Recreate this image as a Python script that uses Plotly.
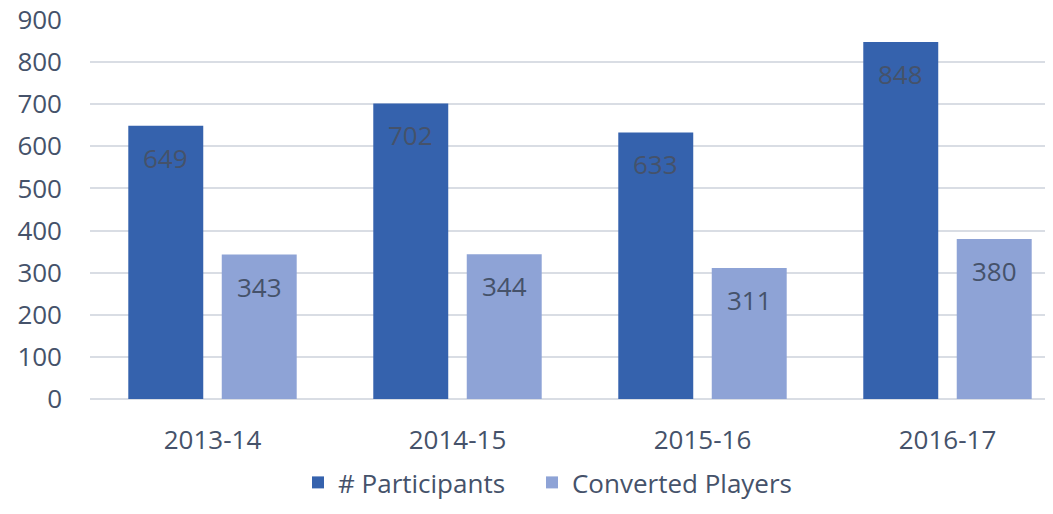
import plotly.graph_objects as go

seasons = ["2013-14", "2014-15", "2015-16", "2016-17"]
participants = [649, 702, 633, 848]
converted = [343, 344, 311, 380]
series_names = ["# Participants", "Converted Players"]
y_ticks = [0, 100, 200, 300, 400, 500, 600, 700, 800, 900]

dark = "#3562ad"
light = "#8ea3d6"
text_col = "#45526a"
font_fam = "'Open Sans', sans-serif"
fs = 26

fig = go.Figure()
fig.add_trace(go.Bar(x=seasons, y=participants, name=series_names[0], legend="legend",
                     marker=dict(color=dark, line=dict(width=0))))
fig.add_trace(go.Bar(x=seasons, y=converted, name=series_names[1], legend="legend2",
                     marker=dict(color=light, line=dict(width=0))))

for s, v in zip(seasons, participants):
    fig.add_annotation(x=s, y=v, text=str(v), showarrow=False, xshift=-46.75, yshift=-32,
                       font=dict(size=fs, color=text_col, family=font_fam))
for s, v in zip(seasons, converted):
    fig.add_annotation(x=s, y=v, text=str(v), showarrow=False, xshift=46.75, yshift=-32,
                       font=dict(size=fs, color=text_col, family=font_fam))

legend_common = dict(orientation="h", xanchor="left", y=-0.221, yanchor="middle",
                     font=dict(size=fs, color=text_col), itemwidth=30)

fig.update_layout(
    width=1037, height=498,
    margin=dict(l=82, r=0, t=12, b=99),
    paper_bgcolor="white", plot_bgcolor="white",
    barmode="group", bargap=0.237, bargroupgap=0.198,
    font=dict(family=font_fam, size=fs, color=text_col),
    xaxis=dict(range=[-0.5, 3.398], showgrid=False, zeroline=False, showline=False,
               ticks="", automargin=False, ticklabelstandoff=23,
               tickfont=dict(size=fs, color=text_col)),
    yaxis=dict(range=[0, 900], tickvals=y_ticks, showgrid=True, gridcolor="#d9dde4",
               gridwidth=1.5, zeroline=True, zerolinecolor="#d9dde4", zerolinewidth=1.5,
               showline=False, ticks="", ticklabelstandoff=27, automargin=False,
               ticklabeloverflow="allow",
               tickfont=dict(size=fs, color=text_col)),
    legend=dict(x=0.2178, **legend_common),
    legend2=dict(x=0.4628, **legend_common),
    showlegend=True,
)

fig.write_html("out.html")
